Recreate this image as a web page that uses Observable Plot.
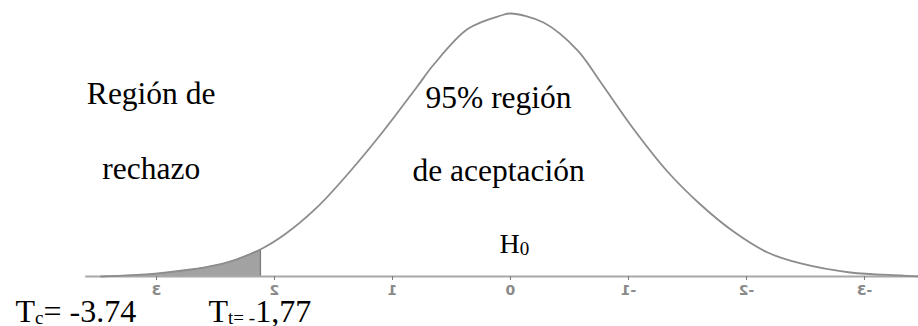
<!DOCTYPE html>
<html>
<head>
<meta charset="utf-8">
<script src="https://cdn.jsdelivr.net/npm/d3@7"></script>
<script src="https://cdn.jsdelivr.net/npm/@observablehq/plot@0.6"></script>
<style>
  html, body { margin: 0; padding: 0; background: #fff; }
  #chart { width: 918px; height: 326px; overflow: hidden; }
</style>
</head>
<body>
<div id="chart"></div>
<script>
// Curve: axis value (z) and density height
const zValues = [3.47, 2.99, 2.43, 2.12, 1.92, 1.64, 1.36, 1.08, 0.79, 0.65, 0.36, 0.08, 0, -0.28, -0.57, -0.76, -1.04, -1.33, -1.61, -1.89, -2.18, -2.46, -2.88, -3.31, -3.46];
const densities = [0, 0.0046, 0.0198, 0.0411, 0.063, 0.105, 0.1597, 0.2205, 0.289, 0.3224, 0.3767, 0.397, 0.4, 0.3863, 0.3437, 0.2966, 0.2251, 0.1597, 0.1095, 0.0684, 0.0365, 0.0198, 0.0061, 0.0015, 0];
const criticalZ = 2.12;                       // edge of shaded tail
const tickValues = [3, 2, 1, 0, -1, -2, -3];  // mirrored labels in the picture
const axisExtent = [3.6, -3.46];
const labelTexts = ["Región de", "rechazo", "95% región", "de aceptación", "H_{0}", "T_{c}= -3.74", "T_{t= -}1,77"];

const curve = zValues.map((z, i) => ({z, d: densities[i]}));
const tail = curve.filter(p => p.z >= criticalZ);
const critD = densities[zValues.indexOf(criticalZ)];

const serif = "'Liberation Serif', 'Times New Roman', serif";
const big = 31.5;

const plot = Plot.plot({
  width: 918,
  height: 326,
  marginTop: 0,
  marginLeft: 0,
  marginRight: 0,
  marginBottom: 50,
  style: {background: "white", overflow: "visible"},
  x: {domain: [4.322, -3.458], label: null},
  y: {domain: [0, 0.4198], axis: null},
  marks: [
    Plot.areaY(tail, {x: "z", y: "d", fill: "#a2a2a2", curve: "catmull-rom"}),
    Plot.ruleX([criticalZ], {y1: 0, y2: critD, stroke: "#7a7a7a", strokeWidth: 1.5}),
    Plot.ruleY([0], {x1: axisExtent[0], x2: axisExtent[1], stroke: "#a8a8a8", strokeWidth: 2}),
    Plot.line(curve, {x: "z", y: "d", stroke: "#8c8c8c", strokeWidth: 1.8, curve: "catmull-rom"}),
    Plot.axisX({ticks: tickValues, tickFormat: d => String(d), label: null, tickSize: 4, tickPadding: 5,
      stroke: "#777", fill: "#8a8a8a", fontSize: 14, fontWeight: "bold", fontFamily: "'DejaVu Sans', sans-serif"}),
    Plot.text([labelTexts[0]], {x: 3.59, y: 0.263, text: d => d, textAnchor: "start", lineAnchor: "bottom", fontSize: big, fontFamily: serif, fill: "#000"}),
    Plot.text([labelTexts[1]], {x: 3.46, y: 0.149, text: d => d, textAnchor: "start", lineAnchor: "bottom", fontSize: big, fontFamily: serif, fill: "#000"}),
    Plot.text([labelTexts[2]], {x: 0.72, y: 0.257, text: d => d, textAnchor: "start", lineAnchor: "bottom", fontSize: big, fontFamily: serif, fill: "#000"}),
    Plot.text([labelTexts[3]], {x: 0.831, y: 0.146, text: d => d, textAnchor: "start", lineAnchor: "bottom", fontSize: big, fontFamily: serif, fill: "#000"}),
    Plot.text([labelTexts[4]], {x: 0.093, y: 0.035, text: d => d, textAnchor: "start", lineAnchor: "bottom", fontSize: 28, fontFamily: serif, fill: "#000"}),
    Plot.text([labelTexts[5]], {x: 4.195, y: -0.069, text: d => d, textAnchor: "start", lineAnchor: "bottom", fontSize: 32, fontFamily: serif, fill: "#000"}),
    Plot.text([labelTexts[6]], {x: 2.559, y: -0.069, text: d => d, textAnchor: "start", lineAnchor: "bottom", fontSize: 32, fontFamily: serif, fill: "#000"})
  ]
});

// Mirror the tick labels horizontally, as in the picture
d3.select(plot).selectAll('g[aria-label="x-axis tick label"] text').each(function() {
  const el = this;
  const t = el.getAttribute("transform") || "";
  if (el.hasAttribute("x")) {
    const x = +el.getAttribute("x");
    el.setAttribute("transform", `${t} translate(${x},0) scale(-1,1) translate(${-x},0)`);
  } else {
    el.setAttribute("transform", `${t} scale(-1,1)`);
  }
});

// Subscripts: "A_{b}c" -> A, small b, c
d3.select(plot).selectAll("text").each(function() {
  const s = this.textContent;
  const m = s.match(/^(.*?)_\{(.*?)\}(.*)$/);
  if (!m) return;
  const fs = parseFloat(this.getAttribute("font-size") || getComputedStyle(this).fontSize) || 30;
  const sub = Math.round(fs * 0.64);
  const shift = 2;
  const sel = d3.select(this);
  sel.text(null);
  sel.append("tspan").text(m[1]);
  sel.append("tspan").attr("font-size", sub).attr("dy", shift).text(m[2]);
  if (m[3]) sel.append("tspan").attr("dy", -shift).text(m[3]);
});

document.getElementById("chart").appendChild(plot);
</script>
</body>
</html>
